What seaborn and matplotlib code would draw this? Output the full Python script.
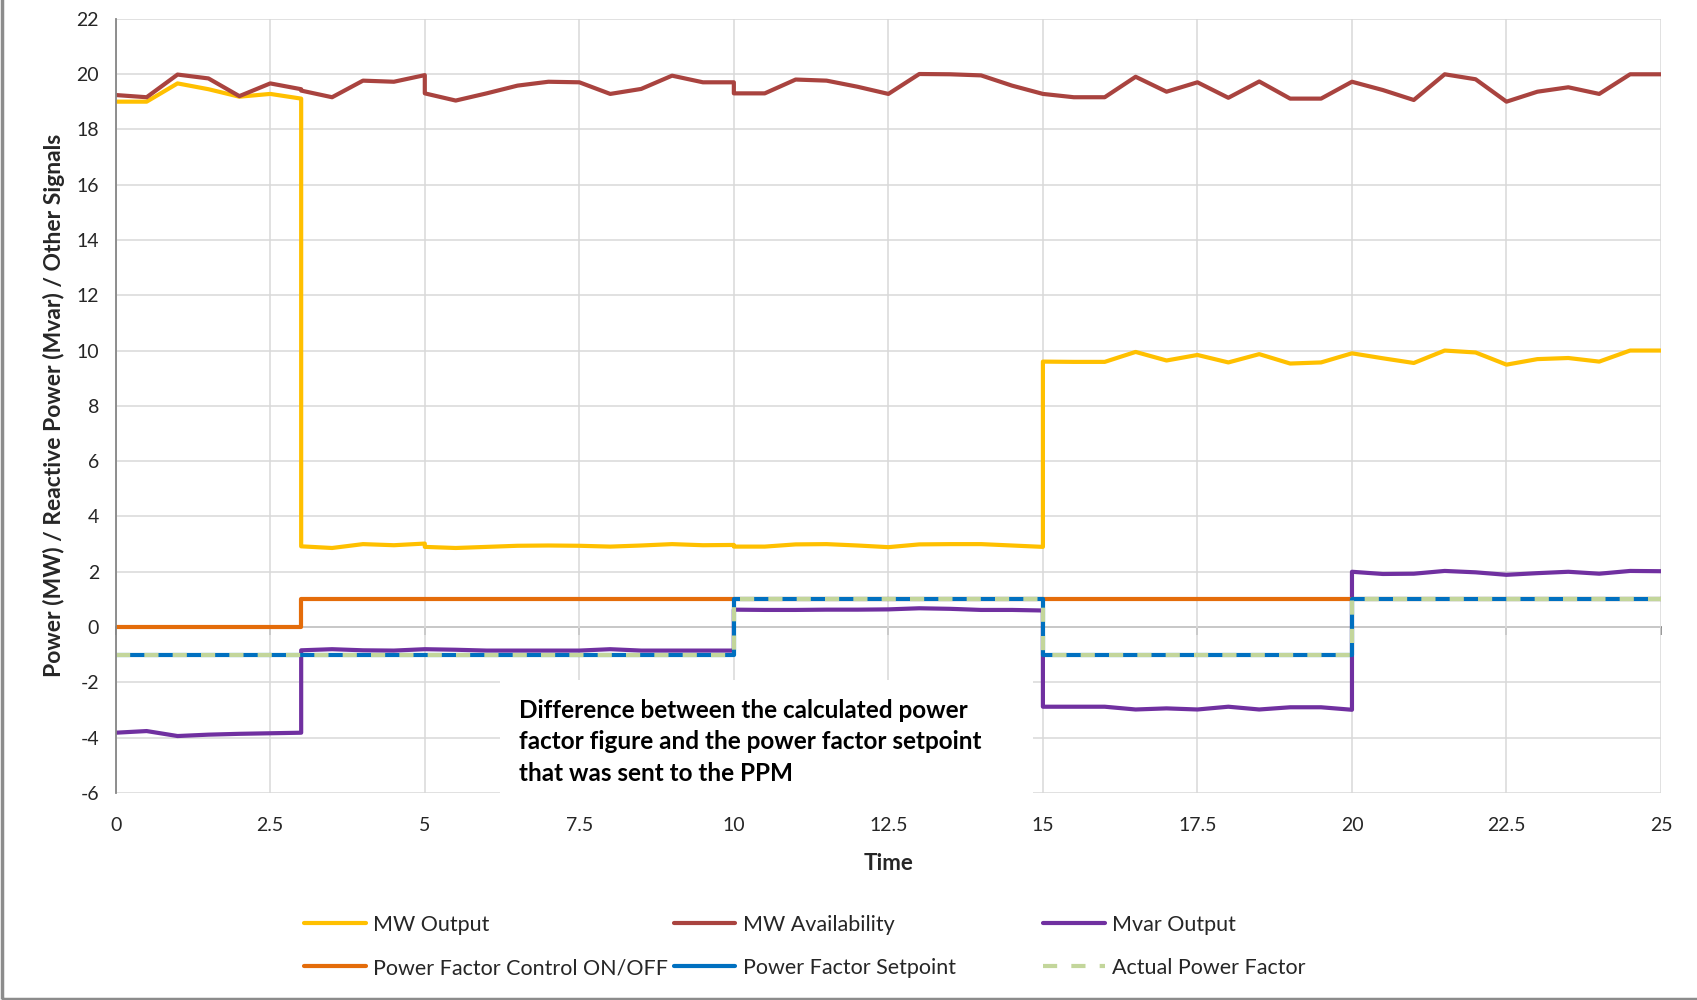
import numpy as np
import pandas as pd
import matplotlib
matplotlib.use('Agg')
import matplotlib.pyplot as plt
import seaborn as sns
from matplotlib.patches import Rectangle

# --- datos (pasos de 0.5, con puntos repetidos en los saltos) ---
time = [0, 0.5, 1, 1.5, 2, 2.5, 3, 3, 3.5, 4, 4.5, 5, 5, 5.5, 6, 6.5, 7, 7.5, 8, 8.5,
        9, 9.5, 10, 10, 10.5, 11, 11.5, 12, 12.5, 13, 13.5, 14, 14.5, 15, 15, 15.5, 16,
        16.5, 17, 17.5, 18, 18.5, 19, 19.5, 20, 20, 20.5, 21, 21.5, 22, 22.5, 23, 23.5,
        24, 24.5, 25]

mw_output = [19.0, 19.0, 19.66, 19.45, 19.18, 19.28, 19.11, 2.92, 2.86, 3.0, 2.96, 3.02,
             2.9, 2.86, 2.9, 2.94, 2.95, 2.94, 2.91, 2.95, 3.0, 2.96, 2.97, 2.91, 2.91,
             2.99, 3.0, 2.95, 2.89, 2.99, 3.0, 3.0, 2.95, 2.9, 9.6, 9.59, 9.59, 9.95,
             9.64, 9.84, 9.57, 9.87, 9.53, 9.57, 9.9, 9.9, 9.72, 9.55, 10.0, 9.93, 9.49,
             9.69, 9.73, 9.6, 10.0, 10.0]

mw_availability = [19.24, 19.16, 19.98, 19.84, 19.2, 19.66, 19.45, 19.4, 19.16, 19.76,
                   19.72, 19.96, 19.3, 19.04, 19.3, 19.58, 19.72, 19.7, 19.28, 19.46,
                   19.94, 19.7, 19.7, 19.3, 19.3, 19.8, 19.76, 19.54, 19.28, 20.0, 19.99,
                   19.95, 19.58, 19.28, 19.28, 19.16, 19.16, 19.9, 19.36, 19.7, 19.14,
                   19.73, 19.11, 19.11, 19.72, 19.72, 19.42, 19.06, 19.99, 19.81, 19.0,
                   19.36, 19.52, 19.28, 19.99, 19.99]

mvar_output = [-3.82, -3.76, -3.94, -3.89, -3.86, -3.84, -3.82, -0.84, -0.8, -0.84, -0.85,
               -0.8, -0.8, -0.82, -0.85, -0.85, -0.85, -0.85, -0.8, -0.85, -0.85, -0.85,
               -0.85, 0.63, 0.62, 0.62, 0.63, 0.63, 0.64, 0.68, 0.66, 0.62, 0.62, 0.6,
               -2.88, -2.88, -2.88, -2.98, -2.94, -2.98, -2.88, -2.98, -2.9, -2.9, -2.99,
               2.0, 1.92, 1.93, 2.03, 1.98, 1.89, 1.95, 2.0, 1.93, 2.03, 2.02]

pf_control = [0, 0, 0, 0, 0, 0, 0, 1, 1, 1, 1, 1, 1, 1, 1, 1, 1, 1, 1, 1, 1, 1, 1, 1, 1, 1,
              1, 1, 1, 1, 1, 1, 1, 1, 1, 1, 1, 1, 1, 1, 1, 1, 1, 1, 1, 1, 1, 1, 1, 1, 1, 1,
              1, 1, 1, 1]

pf_setpoint = [-1, -1, -1, -1, -1, -1, -1, -1, -1, -1, -1, -1, -1, -1, -1, -1, -1, -1, -1,
               -1, -1, -1, -1, 1, 1, 1, 1, 1, 1, 1, 1, 1, 1, 1, -1, -1, -1, -1, -1, -1, -1,
               -1, -1, -1, -1, 1, 1, 1, 1, 1, 1, 1, 1, 1, 1, 1]

pf_actual = [-1, -1, -1, -1, -1, -1, -1, -1, -1, -1, -1, -1, -1, -1, -1, -1, -1, -1, -1,
             -1, -1, -1, -1, 1, 1, 1, 1, 1, 1, 1, 1, 1, 1, 1, -1, -1, -1, -1, -1, -1, -1,
             -1, -1, -1, -1, 1, 1, 1, 1, 1, 1, 1, 1, 1, 1, 1]

x_ticks = [0, 2.5, 5, 7.5, 10, 12.5, 15, 17.5, 20, 22.5, 25]
x_labels = ['0', '2.5', '5', '7.5', '10', '12.5', '15', '17.5', '20', '22.5', '25']
y_ticks = [-6, -4, -2, 0, 2, 4, 6, 8, 10, 12, 14, 16, 18, 20, 22]

series = [
    ('MW Output', mw_output, '#FFC000', None),
    ('MW Availability', mw_availability, '#A9433F', None),
    ('Mvar Output', mvar_output, '#7030A0', None),
    ('Power Factor Control ON/OFF', pf_control, '#E46C0A', None),
    ('Power Factor Setpoint', pf_setpoint, '#0070C0', None),
    ('Actual Power Factor', pf_actual, '#C3D69B', (3.4, 3.4)),
]

sns.set_style('white')
plt.rcParams['font.family'] = ['Lato', 'DejaVu Sans']
plt.rcParams['axes.unicode_minus'] = False

fig = plt.figure(figsize=(16.97, 10), dpi=100)
ax = fig.add_axes([0.0682, 0.207, 0.9106, 0.7743])

for name, vals, col, dash in series:
    sns.lineplot(x=time, y=vals, ax=ax, estimator=None, sort=False,
                 color=col, lw=3.0, label=name)
    if dash is not None:
        ax.lines[-1].set_dashes(dash)

ax.set_xlim(0, 25)
ax.set_ylim(-6, 22)
ax.set_xticks(x_ticks)
ax.set_xticklabels(x_labels)
ax.set_yticks(y_ticks)
ax.grid(True, color='#D9D9D9', lw=1.1)
ax.set_axisbelow(True)
for s in ['top', 'right', 'bottom']:
    ax.spines[s].set_visible(False)
ax.spines['left'].set_color('#868686')
ax.spines['left'].set_linewidth(1.3)
ax.tick_params(axis='y', length=6, width=1.2, color='#868686', labelsize=14,
               labelcolor='#262626', pad=6)
ax.tick_params(axis='x', length=0, labelsize=14, labelcolor='#262626', pad=17)

# eje horizontal en y=0 con marcas
sec = ax.secondary_xaxis(6 / 28)
sec.set_xticks(x_ticks)
sec.tick_params(axis='x', length=6, width=1.2, color='#868686', labelbottom=False,
                labeltop=False, direction='out')
sec.spines['bottom'].set_color('#868686')
sec.spines['bottom'].set_linewidth(1.3)
sec.spines['top'].set_visible(False)

ax.set_xlabel('Time', fontsize=16, fontweight='bold', color='#262626', labelpad=14)
ax.set_ylabel('Power (MW) / Reactive Power (Mvar) / Other Signals', fontsize=16.5,
              fontweight='bold', color='#262626', labelpad=8)

# cuadro de texto blanco
ax.add_patch(Rectangle((6.22, -6.15), 8.62, 4.23, facecolor='white', edgecolor='none',
                       zorder=1.5, clip_on=False))
fig.text(0.306, 0.3015, 'Difference between the calculated power\n'
         'factor figure and the power factor setpoint\nthat was sent to the PPM',
         ha='left', va='top', fontsize=17.5, fontweight='bold', color='black',
         linespacing=1.45)

# leyenda en tres columnas
handles, labels = ax.get_legend_handles_labels()
ax.get_legend().remove()
col_x = [0.179, 0.397, 0.6146]
for i, cx in enumerate(col_x):
    lg = fig.legend([handles[i], handles[i + 3]], [labels[i], labels[i + 3]],
                    loc='center left', bbox_to_anchor=(cx, 0.0535), frameon=False,
                    fontsize=15.5, handlelength=2.87, handletextpad=0.35,
                    labelspacing=1.07, borderpad=0, borderaxespad=0)
    for t in lg.get_texts():
        t.set_color('#262626')

# borde del area del grafico
fig.add_artist(Rectangle((0.0012, 0.0015), 1.5, 1.5, transform=fig.transFigure,
                         fill=False, edgecolor='#8C8C8C', lw=2.5))

plt.savefig('out.png', dpi=100)
